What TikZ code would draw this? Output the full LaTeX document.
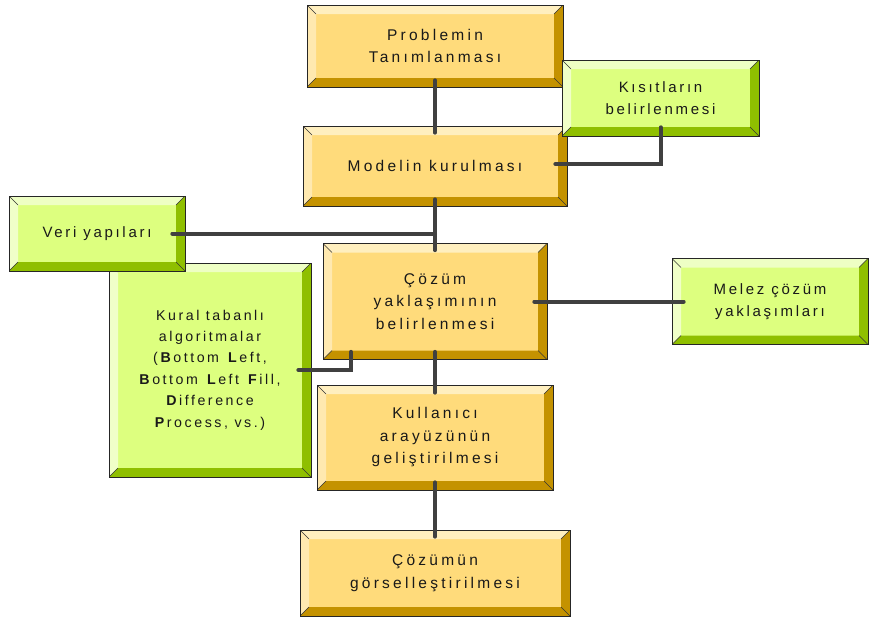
\documentclass[tikz,border=0pt]{standalone}
\usepackage{fontspec}
\setmainfont{Liberation Sans}
\definecolor{yface}{HTML}{FFDB7B}
\definecolor{ytop}{HTML}{FFEFBF}
\definecolor{yleft}{HTML}{FFE9B0}
\definecolor{ydark}{HTML}{C49200}
\definecolor{gface}{HTML}{DDFF7F}
\definecolor{gtop}{HTML}{EEFFC4}
\definecolor{gleft}{HTML}{F0FFC8}
\definecolor{gdark}{HTML}{8FBF00}
\definecolor{linkgray}{HTML}{404040}
\newcommand\boxfont{\fontsize{15}{22}\selectfont\addfontfeature{LetterSpace=18}}
\newcommand\goldfont{\fontsize{15.5}{22.5}\selectfont\addfontfeature{LetterSpace=21}}
\newcommand\smallboxfont{\fontsize{14.2}{21.4}\selectfont\addfontfeature{LetterSpace=18}}
% top, left, dark sides, depth
\newcommand\bevelpic[4]{%
  \coordinate (nw) at (path picture bounding box.north west);
  \coordinate (ne) at (path picture bounding box.north east);
  \coordinate (sw) at (path picture bounding box.south west);
  \coordinate (se) at (path picture bounding box.south east);
  \coordinate (inw) at ([shift={(#4,-#4)}]nw);
  \coordinate (ine) at ([shift={(-#4,-#4)}]ne);
  \coordinate (isw) at ([shift={(#4,#4)}]sw);
  \coordinate (ise) at ([shift={(-#4,#4)}]se);
  \fill[#1] (nw) -- (ne) -- (ine) -- (inw) -- cycle;
  \fill[#2] (nw) -- (inw) -- (isw) -- (sw) -- cycle;
  \fill[#3] (ne) -- (se) -- (ise) -- (ine) -- cycle;
  \fill[#3] (sw) -- (isw) -- (ise) -- (se) -- cycle;
  \draw[black!80,line width=.5pt] (nw) -- (inw) (ne) -- (ine) (sw) -- (isw) (se) -- (ise);
}
\tikzset{
  >=latex,
  {base box/.style}={rectangle, draw=black!85, line width=.7pt,
                     inner sep=0pt, align=center, font=\boxfont,
                     text=black!90},
  {gold box/.style 2 args}={base box, fill=yface, minimum width=#1,
                     minimum height=#2, font=\goldfont,
                     path picture={\bevelpic{ytop}{yleft}{ydark}{9pt}}},
  {lime box/.style 2 args}={base box, fill=gface, minimum width=#1,
                     minimum height=#2,
                     path picture={\bevelpic{gtop}{gleft}{gdark}{9pt}}},
  {link/.style}={draw=linkgray, line width=4pt, line cap=round},
}

\begin{document}
\begin{tikzpicture}[x=1pt,y=-1pt]
\useasboundingbox (0,0) rectangle (869,619);
% main column
\node[gold box={256pt}{82pt}] (prob) at (435,46) {Problemin\\Tanımlanması};
\node[gold box={264pt}{80pt}] (model) at (435,166) {Modelin kurulması};
\node[lime box={197pt}{76pt}] (kisit) at (660.5,98) {Kısıtların\\belirlenmesi};
\node[lime box={202pt}{214pt}, font=\smallboxfont] (kural) at (210,370)
  {Kural tabanlı\\algoritmalar\\(\textbf{B}ottom \textbf{L}eft,\\
   \textbf{B}ottom \textbf{L}eft \textbf{F}ill,\\\textbf{D}ifference\\
   \textbf{P}rocess, vs.)};
\node[lime box={176pt}{75pt}] (veri) at (97,233.5) {Veri yapıları};
\node[gold box={224pt}{116pt}] (cozum) at (435,301.5)
  {Çözüm\\yaklaşımının\\belirlenmesi};
\node[lime box={196pt}{86pt}] (melez) at (770,301.5) {Melez çözüm\\yaklaşımları};
\node[gold box={236pt}{105pt}] (kullanici) at (435,437.5)
  {Kullanıcı\\arayüzünün\\geliştirilmesi};
\node[gold box={270pt}{86pt}] (gorsel) at (435,573) {Çözümün\\görselleştirilmesi};

% connectors
\draw[link] ([yshift=7pt]prob.south) -- ([yshift=-7pt]model.north);
\draw[link] ([yshift=9pt]kisit.south) |- ([xshift=-12pt,yshift=2pt]model.east);
\draw[link] ([yshift=7pt]model.south) -- ([yshift=-7pt]cozum.north);
\draw[link] ([xshift=-13pt]veri.east) -- (veri.east -| cozum.north);
\draw[link] ([xshift=-13pt]kural.east) -| ([xshift=-84pt,yshift=8pt]cozum.south);
\draw[link] ([xshift=-13pt]cozum.east) -- ([xshift=12pt]cozum.east -| melez.west);
\draw[link] ([yshift=8pt]cozum.south) -- ([yshift=-8pt]kullanici.north);
\draw[link] ([yshift=8pt]kullanici.south) -- ([yshift=-7pt]gorsel.north);
\end{tikzpicture}
\end{document}
